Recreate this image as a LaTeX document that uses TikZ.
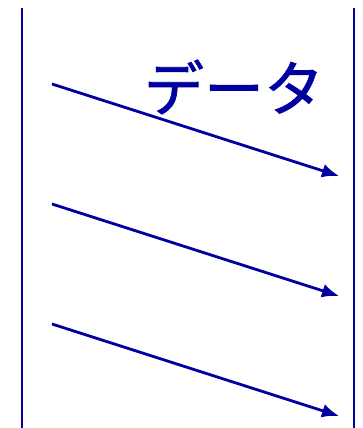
\documentclass[tikz,border=0pt]{standalone}
\usepackage{fontspec}
\newfontfamily\jpfont[FakeBold=1.2]{Noto Sans CJK JP}
\usetikzlibrary{arrows.meta,positioning,calc}
\definecolor{navy}{HTML}{0000A0}
\tikzset{
  lifeline/.style={draw=navy,line width=1.7pt},
  msgarrow/.style={-{Latex[length=17pt,width=14pt]},line width=2.8pt,draw=navy},
  msglabel/.style={text=navy,font=\jpfont\fontsize{60}{62}\selectfont,inner sep=0pt}
}

\begin{document}
\begin{tikzpicture}[x=1pt,y=-1pt]
\useasboundingbox (0,0) rectangle (363,428);
% the two lifelines
\coordinate (lefttop) at (22,8);
\coordinate (leftbot) at (22,428);
\coordinate (righttop) at (354,8);
\coordinate (rightbot) at (354,428);
\draw[lifeline] (lefttop) -- (leftbot);
\draw[lifeline] (righttop) -- (rightbot);
% messages
\foreach \i/\dy in {1/0,2/120,3/240}{
  \coordinate (src\i) at (52,84+\dy);
  \coordinate (dst\i) at (339,176+\dy);
  \draw[msgarrow] (src\i) -- (dst\i);
}
\node[msglabel] (data) at (234,87) {データ};
\end{tikzpicture}
\end{document}
